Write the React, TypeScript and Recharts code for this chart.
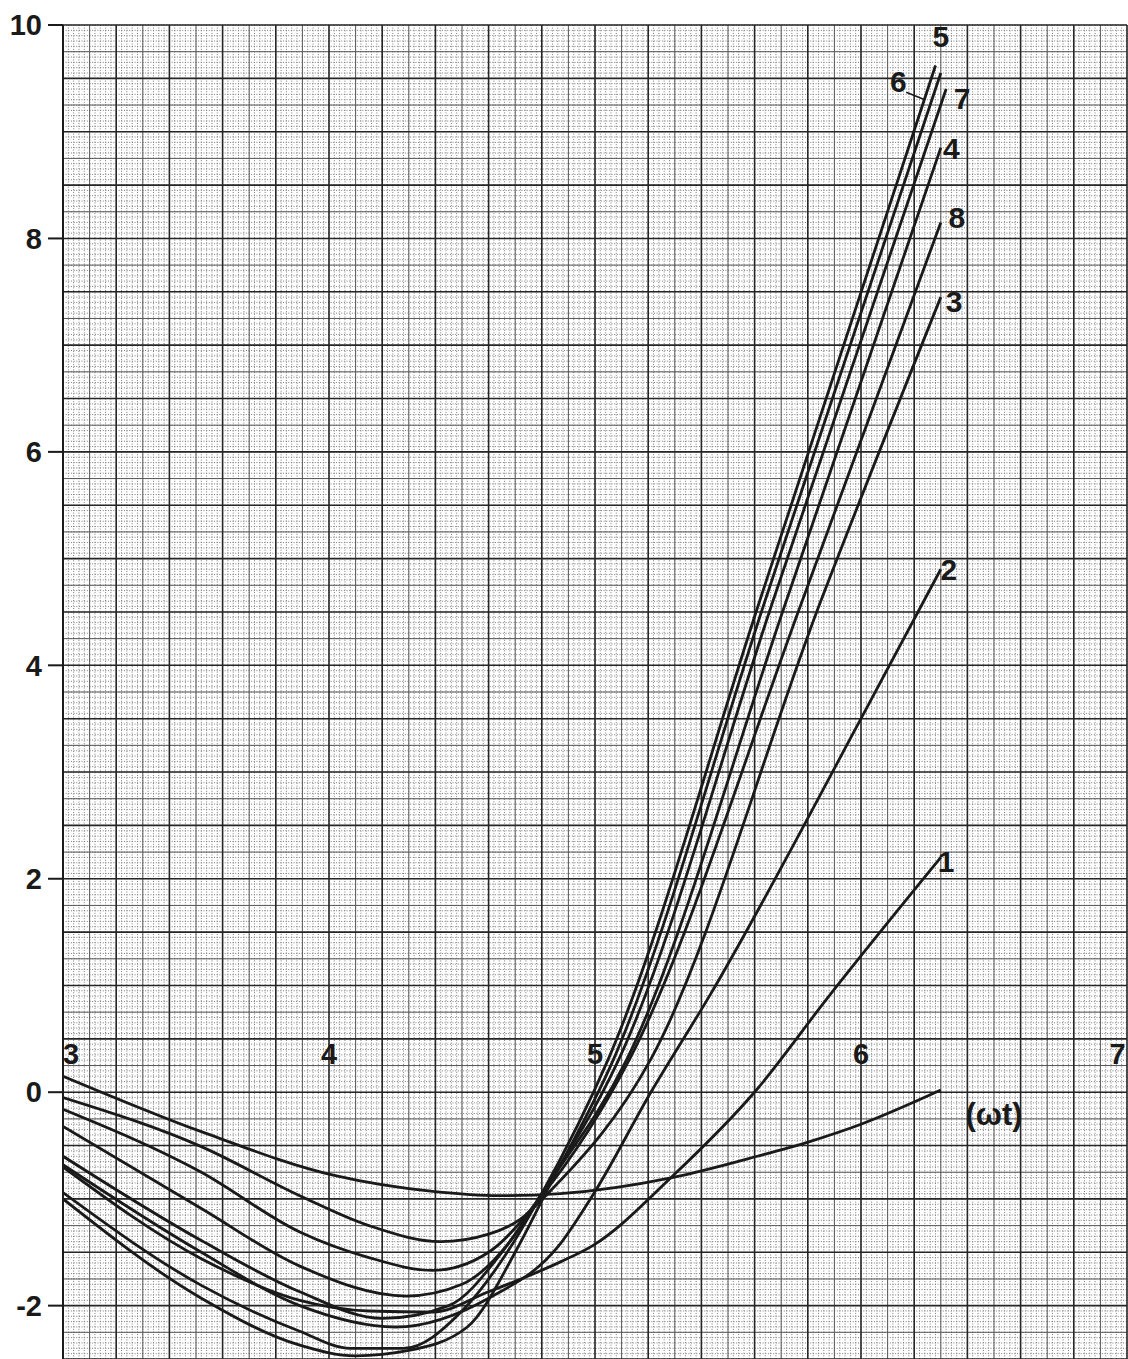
import React from 'react';
import { ComposedChart, Line, Scatter, XAxis, YAxis, CartesianGrid } from 'recharts';

// curves, [ωt, value]
const curve0 = [[3, 0.15], [3.52, -0.37], [4.02, -0.78], [4.39, -0.93], [4.64, -0.97], [4.87, -0.95], [5.29, -0.8], [5.61, -0.6], [5.81, -0.46], [6.0, -0.3], [6.3, 0.02]];
const curve1 = [[3, -0.7], [3.52, -1.56], [3.89, -1.95], [4.15, -2.05], [4.39, -2.06], [4.6, -1.87], [4.87, -1.59], [4.99, -1.44], [5.29, -0.79], [5.61, 0.03], [5.87, 0.87], [6.3, 2.2]];
const curve2 = [[3, -0.68], [3.52, -1.5], [3.89, -2.0], [4.25, -2.2], [4.6, -1.93], [4.86, -1.45], [5.0, -0.93], [5.21, 0.0], [5.43, 0.9], [6.0, 3.5], [6.3, 4.9]];
const curve3 = [[3, -0.05], [3.52, -0.51], [3.89, -0.97], [4.15, -1.25], [4.42, -1.4], [4.6, -1.33], [4.72, -1.19], [4.83, -0.93], [5.21, 0.31], [5.85, 4.61], [6.3, 7.45]];
const curve4 = [[3, -0.32], [3.52, -1.09], [3.89, -1.63], [4.29, -1.91], [4.5, -1.8], [4.68, -1.4], [4.8, -0.95], [5.12, 0.31], [5.72, 4.61], [6.3, 8.85]];
const curve5 = [[3, -1.0], [3.52, -1.93], [3.89, -2.37], [4.1, -2.47], [4.3, -2.42], [4.52, -2.2], [4.7, -1.5], [4.82, -0.92], [5.07, 0.31], [5.64, 4.61], [6.3, 9.55]];
const curve6 = [[3, -0.94], [3.52, -1.81], [3.89, -2.24], [4.08, -2.4], [4.28, -2.4], [4.5, -2.05], [4.67, -1.5], [4.8, -0.95], [5.05, 0.31], [5.62, 4.61], [6.28, 9.62]];
const curve7 = [[3, -0.6], [3.52, -1.39], [3.89, -1.87], [4.2, -2.12], [4.45, -2.0], [4.65, -1.5], [4.8, -0.95], [5.09, 0.31], [5.67, 4.61], [6.32, 9.4]];
const curve8 = [[3, -0.16], [3.52, -0.75], [3.89, -1.31], [4.15, -1.55], [4.39, -1.67], [4.6, -1.5], [4.8, -0.97], [5.13, 0.31], [5.78, 4.61], [6.3, 8.15]];
const leader6 = [[6.17, 9.37], [6.24, 9.3]];

// curve numbers written beside the ends
const curveNames = ['1', '2', '3', '4', '5', '6', '7', '8'];
const curveNameX = [6.32, 6.33, 6.35, 6.34, 6.3, 6.14, 6.38, 6.36];
const curveNameY = [2.16, 4.9, 7.41, 8.84, 9.89, 9.47, 9.31, 8.2];

// axis numbering
const yTicks = [-2, 0, 2, 4, 6, 8, 10];
const xTicks = [3, 4, 5, 6, 7];
const xTickRow = 0.36;
const axisTitle = '(ωt)';
const axisTitleAt = [6.5, -0.21];

const toRows = (pts) => pts.map(([x, y]) => ({ x, y }));
const curves = [curve0, curve1, curve2, curve3, curve4, curve5, curve6, curve7, curve8];

const steps = (start, end, step) => {
  const out = [];
  const n = Math.round((end - start) / step);
  for (let i = 0; i <= n; i++) out.push(+(start + i * step).toFixed(4));
  return out;
};

// graph paper rulings
const fineX = steps(3, 7, 0.02);
const midX = steps(3.1, 6.9, 0.2);
const majorX = steps(3, 7, 0.2);
const fineY = steps(-2.5, 10, 0.05);
const midY = steps(-2.25, 9.75, 0.5);
const majorY = steps(-2.5, 10, 0.5);

// the 3 and 7 sit just inside the paper edges
const xTickPos = (v) => (v === 3 ? 3.03 : v === 7 ? 6.965 : v);

const textLabels = [
  ...curveNames.map((t, i) => ({ x: curveNameX[i], y: curveNameY[i], t, size: 30 })),
  ...xTicks.map((v) => ({ x: xTickPos(v), y: xTickRow, t: String(v), size: 29 })),
  { x: axisTitleAt[0], y: axisTitleAt[1], t: axisTitle, size: 31 },
];

const FONT = '"Liberation Sans", Arial, sans-serif';

const TextMark = (props) => {
  const { cx, cy, payload } = props;
  return (
    <text x={cx} y={cy} textAnchor="middle" dominantBaseline="central" fontFamily={FONT} fontWeight="bold" fontSize={payload.size} fill="#1a1a1a">
      {payload.t}
    </text>
  );
};

const App = () => {
  return (
    <div style={{ position: 'absolute', left: 0, top: 0, background: '#fff' }}>
      <ComposedChart width={1128} height={1359} margin={{ top: 25, right: 1, bottom: 0, left: 0 }}>
        <CartesianGrid verticalValues={fineX} horizontalValues={fineY} stroke="#7d7d7d" strokeWidth={1} strokeDasharray="1 1.65" />
        <CartesianGrid verticalValues={midX} horizontalValues={midY} stroke="#5a5a5a" strokeWidth={1} />
        <CartesianGrid verticalValues={majorX} horizontalValues={majorY} stroke="#262626" strokeWidth={1.6} />
        <XAxis type="number" dataKey="x" domain={[3, 7]} allowDataOverflow hide interval={0} />
        <YAxis
          type="number"
          dataKey="y"
          domain={[-2.5, 10]}
          allowDataOverflow
          ticks={yTicks}
          interval={0}
          width={63}
          tickSize={15}
          tickMargin={6}
          axisLine={{ stroke: '#1a1a1a', strokeWidth: 2 }}
          tickLine={{ stroke: '#1a1a1a', strokeWidth: 2 }}
          tick={{ fontSize: 29, fontWeight: 'bold', fill: '#1a1a1a', fontFamily: FONT }}
        />
        {curves.map((c, i) => (
          <Line key={i} data={toRows(c)} dataKey="y" type="monotone" stroke="#1a1a1a" strokeWidth={2.8} dot={false} isAnimationActive={false} />
        ))}
        <Line data={toRows(leader6)} dataKey="y" type="linear" stroke="#1a1a1a" strokeWidth={1.5} dot={false} isAnimationActive={false} />
        <Scatter data={textLabels} dataKey="y" shape={TextMark} isAnimationActive={false} />
      </ComposedChart>
    </div>
  );
};

export default App;
